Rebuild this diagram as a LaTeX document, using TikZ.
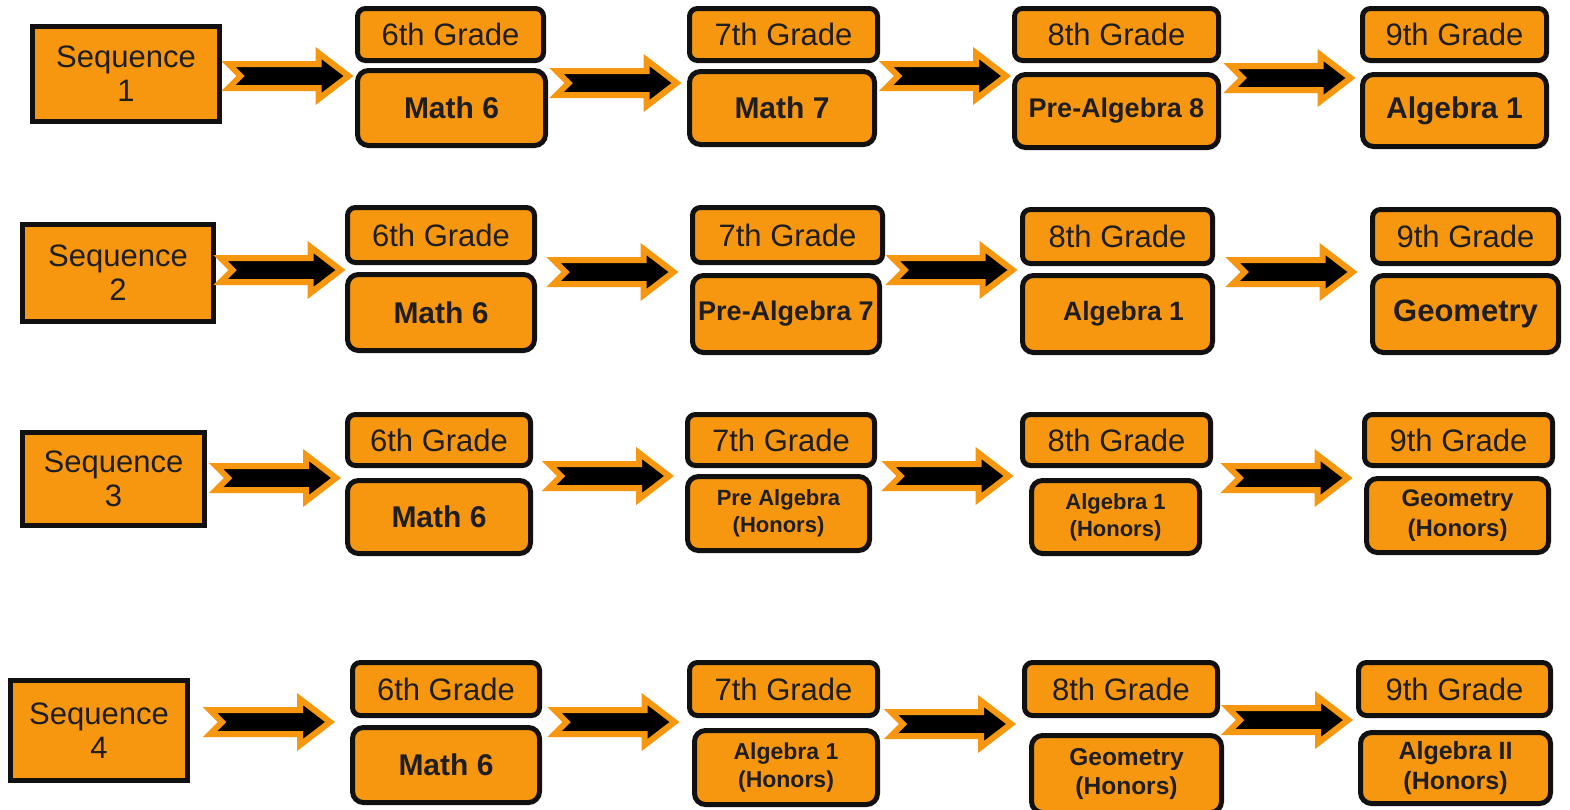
\documentclass[tikz,border=0pt]{standalone}
\usepackage{fontspec}
\setmainfont{Liberation Sans}
\usetikzlibrary{calc}

\definecolor{boxorange}{RGB}{247,151,15}
\definecolor{boxline}{RGB}{17,17,17}
\definecolor{textdark}{RGB}{30,30,30}

\tikzset{
  seqbox/.style={draw=boxline, line width=5pt, fill=boxorange, text=textdark,
    align=center, inner sep=0pt, font=\fontsize{31}{34}\selectfont},
  gradebox/.style={seqbox, rounded corners=8pt},
  coursebox/.style={gradebox, rounded corners=11pt,
    font=\fontsize{30}{34}\selectfont\bfseries},
  honors/.style={font=\fontsize{#1}{\fpeval{1.22*#1}}\selectfont\bfseries},
  boxsize/.style 2 args={minimum width=#1pt, minimum height=#2pt},
  seqarrow/.style={fill=black, draw=boxorange, line width=6pt, line join=miter}
}

% block arrow centred in the gap between two nodes, axis at height #3
\newcommand{\seqarrow}[3]{%
  \draw[seqarrow] let \p1=($(#1.east)!.5!(#2.west)$), \p2=(0,#3) in
    (\x1-60pt,\y2+12pt) -- (\x1+30pt,\y2+12pt) -- (\x1+30pt,\y2+23pt)
    -- (\x1+60pt,\y2) -- (\x1+30pt,\y2-23pt) -- (\x1+30pt,\y2-12pt)
    -- (\x1-60pt,\y2-12pt) -- (\x1-48pt,\y2) -- cycle;}

\begin{document}
\begin{tikzpicture}[x=1pt, y=-1pt]
    \fill[white] (0,0) rectangle (1570,809);
    \useasboundingbox (0,0) rectangle (1570,809);
    % Sequence 1
    \node[seqbox, boxsize={187}{95}] (s1) at (126,74) {Sequence\\1};
    \node[gradebox, boxsize={186}{52}] (h16) at (450.5,34.5) {6th Grade};
    \node[coursebox, boxsize={188}{75}] (c16) at (451.5,108) {Math 6};
    \node[gradebox, boxsize={188}{52}] (h17) at (783.5,34.5) {7th Grade};
    \node[coursebox, boxsize={185}{73}] (c17) at (782,108) {Math 7};
    \node[gradebox, boxsize={204}{52}] (h18) at (1116.5,34.5) {8th Grade};
    \node[coursebox, boxsize={204}{73}, honors=27] (c18) at (1116.5,111) {Pre-Algebra 8};
    \node[gradebox, boxsize={184}{52}] (h19) at (1454.5,34.5) {9th Grade};
    \node[coursebox, boxsize={184}{72}] (c19) at (1454.5,110.5) {Algebra 1};
    \seqarrow{s1}{h16}{76}
    \seqarrow{h16}{h17}{83}
    \seqarrow{h17}{h18}{76}
    \seqarrow{h18}{h19}{78}
    % Sequence 2
    \node[seqbox, boxsize={191}{97}] (s2) at (118,273) {Sequence\\2};
    \node[gradebox, boxsize={187}{55}] (h26) at (441,235) {6th Grade};
    \node[coursebox, boxsize={187}{76}] (c26) at (441,312.5) {Math 6};
    \node[gradebox, boxsize={190}{55}] (h27) at (787.5,235) {7th Grade};
    \node[coursebox, boxsize={187}{77}, honors=27] (c27) at (786,314) {Pre-Algebra 7};
    \node[gradebox, boxsize={190}{54}] (h28) at (1117.5,236.5) {8th Grade};
    \node[coursebox, boxsize={190}{77}, honors=26.5] (c28) at (1117.5,314) {\hspace{12pt}Algebra 1};
    \node[gradebox, boxsize={186}{54}] (h29) at (1465.5,236.5) {9th Grade};
    \node[coursebox, boxsize={186}{77}, honors=31] (c29) at (1465.5,314) {Geometry};
    \seqarrow{s2}{h26}{270}
    \seqarrow{h26}{h27}{272}
    \seqarrow{h27}{h28}{270}
    \seqarrow{h28}{h29}{272}
    % Sequence 3
    \node[seqbox, boxsize={182}{93}] (s3) at (113.5,479) {Sequence\\3};
    \node[gradebox, boxsize={183}{51}] (h36) at (439,440) {6th Grade};
    \node[coursebox, boxsize={183}{73}] (c36) at (439,517) {Math 6};
    \node[gradebox, boxsize={187}{51}] (h37) at (781,440) {7th Grade};
    \node[coursebox, boxsize={182}{74}, honors=22] (c37) at (778.5,513.5) {Pre Algebra\\(Honors)};
    \node[gradebox, boxsize={188}{51}] (h38) at (1116.5,440) {8th Grade};
    \node[coursebox, boxsize={168}{73}, honors=22] (c38) at (1115.5,517) {Algebra 1\\(Honors)};
    \node[gradebox, boxsize={188}{51}] (h39) at (1458.5,440) {9th Grade};
    \node[coursebox, boxsize={182}{74}, honors=24] (c39) at (1457.5,515.5) {Geometry\\(Honors)};
    \seqarrow{s3}{h36}{478}
    \seqarrow{h36}{h37}{476}
    \seqarrow{h37}{h38}{476}
    \seqarrow{h38}{h39}{478}
    % Sequence 4
    \node[seqbox, boxsize={177}{100}] (s4) at (99,730.5) {Sequence\\4};
    \node[gradebox, boxsize={187}{53}] (h46) at (446,689) {6th Grade};
    \node[coursebox, boxsize={187}{75}] (c46) at (446,765) {Math 6};
    \node[gradebox, boxsize={188}{53}] (h47) at (783.5,689) {7th Grade};
    \node[coursebox, boxsize={183}{74}, honors=23] (c47) at (786,767.5) {Algebra 1\\(Honors)};
    \node[gradebox, boxsize={193}{53}] (h48) at (1121,689) {8th Grade};
    \node[coursebox, boxsize={190}{77}, honors=24.5] (c48) at (1126.5,774) {Geometry\\(Honors)};
    \node[gradebox, boxsize={192}{53}] (h49) at (1454.5,689) {9th Grade};
    \node[coursebox, boxsize={190}{71}, honors=25] (c49) at (1455.5,768) {Algebra II\\(Honors)};
    \seqarrow{s4}{h46}{722}
    \seqarrow{h46}{h47}{722}
    \seqarrow{h47}{h48}{724}
    \seqarrow{h48}{h49}{720}
\end{tikzpicture}
\end{document}
